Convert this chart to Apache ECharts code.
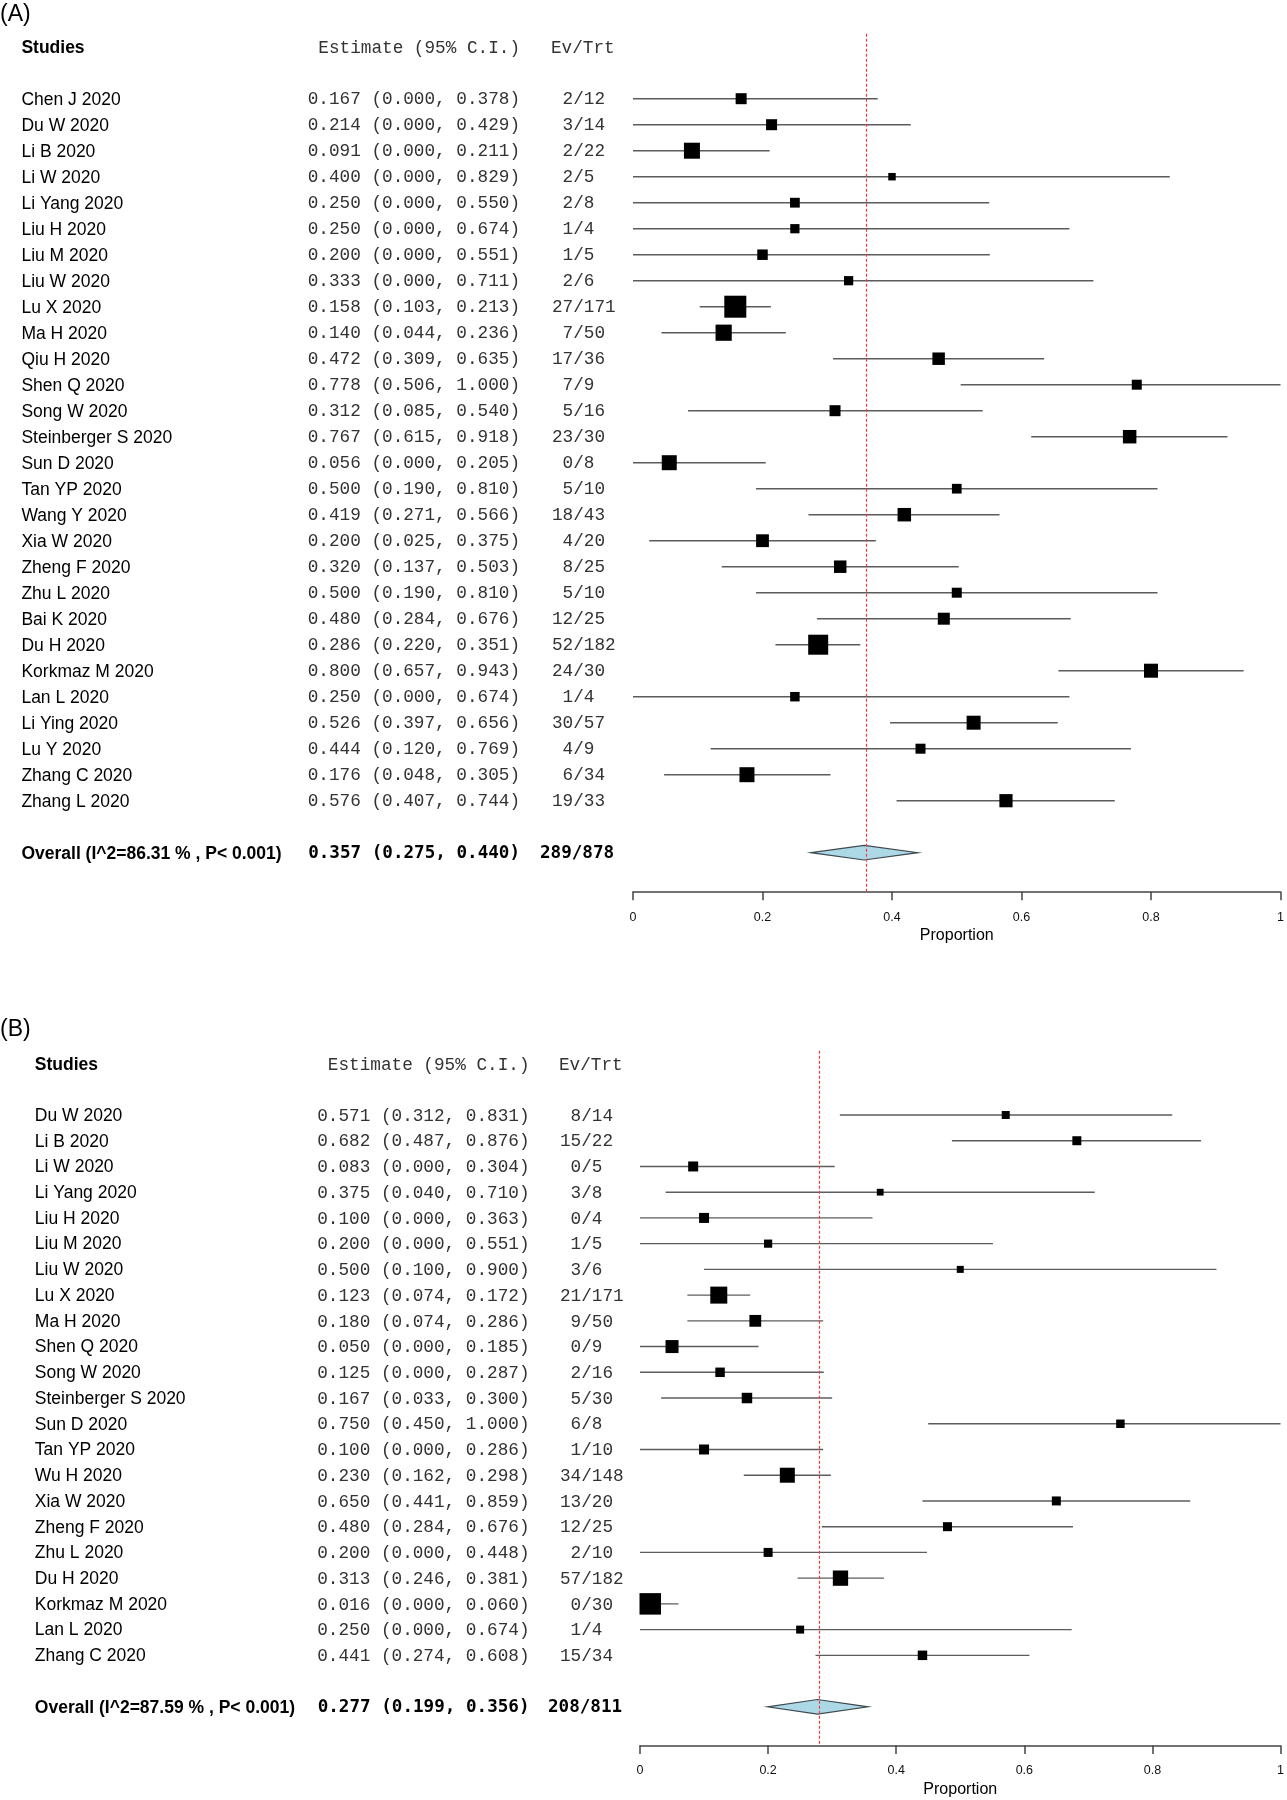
<!DOCTYPE html>
<html><head><meta charset="utf-8">
<script src="https://cdn.jsdelivr.net/npm/echarts@6/dist/echarts.min.js"></script>
<style>html,body{margin:0;padding:0;background:#fff}#c{width:1287px;height:1800px}</style>
</head><body><div id="c"></div>
<script>
// ---------- Panel A data ----------
const studiesA = ['Chen J 2020','Du W 2020','Li B 2020','Li W 2020','Li Yang 2020','Liu H 2020','Liu M 2020','Liu W 2020','Lu X 2020','Ma H 2020','Qiu H 2020','Shen Q 2020','Song W 2020','Steinberger S 2020','Sun D 2020','Tan YP 2020','Wang Y 2020','Xia W 2020','Zheng F 2020','Zhu L 2020','Bai K 2020','Du H 2020','Korkmaz M 2020','Lan L 2020','Li Ying 2020','Lu Y 2020','Zhang C 2020','Zhang L 2020'];
const estA = [0.167,0.214,0.091,0.400,0.250,0.250,0.200,0.333,0.158,0.140,0.472,0.778,0.312,0.767,0.056,0.500,0.419,0.200,0.320,0.500,0.480,0.286,0.800,0.250,0.526,0.444,0.176,0.576];
const loA  = [0.000,0.000,0.000,0.000,0.000,0.000,0.000,0.000,0.103,0.044,0.309,0.506,0.085,0.615,0.000,0.190,0.271,0.025,0.137,0.190,0.284,0.220,0.657,0.000,0.397,0.120,0.048,0.407];
const hiA  = [0.378,0.429,0.211,0.829,0.550,0.674,0.551,0.711,0.213,0.236,0.635,1.000,0.540,0.918,0.205,0.810,0.566,0.375,0.503,0.810,0.676,0.351,0.943,0.674,0.656,0.769,0.305,0.744];
const evA  = [2,3,2,2,2,1,1,2,27,7,17,7,5,23,0,5,18,4,8,5,12,52,24,1,30,4,6,19];
const trtA = [12,14,22,5,8,4,5,6,171,50,36,9,16,30,8,10,43,20,25,10,25,182,30,4,57,9,34,33];
// relative study weight
const weightA = [121,121,256,56,96,85,110,85,484,262,156,100,121,182,225,94,182,164,156,100,144,400,196,90,196,100,225,174];
const overallA = {est:0.357, lo:0.275, hi:0.440, ev:289, trt:878, i2:'86.31', p:'0.001'};

// ---------- Panel B data ----------
const studiesB = ['Du W 2020','Li B 2020','Li W 2020','Li Yang 2020','Liu H 2020','Liu M 2020','Liu W 2020','Lu X 2020','Ma H 2020','Shen Q 2020','Song W 2020','Steinberger S 2020','Sun D 2020','Tan YP 2020','Wu H 2020','Xia W 2020','Zheng F 2020','Zhu L 2020','Du H 2020','Korkmaz M 2020','Lan L 2020','Zhang C 2020'];
const estB = [0.571,0.682,0.083,0.375,0.100,0.200,0.500,0.123,0.180,0.050,0.125,0.167,0.750,0.100,0.230,0.650,0.480,0.200,0.313,0.016,0.250,0.441];
const loB  = [0.312,0.487,0.000,0.040,0.000,0.000,0.100,0.074,0.074,0.000,0.000,0.033,0.450,0.000,0.162,0.441,0.284,0.000,0.246,0.000,0.000,0.274];
const hiB  = [0.831,0.876,0.304,0.710,0.363,0.551,0.900,0.172,0.286,0.185,0.287,0.300,1.000,0.286,0.298,0.859,0.676,0.448,0.381,0.060,0.674,0.608];
const evB  = [8,15,0,3,0,1,3,21,9,0,2,5,6,1,34,13,12,2,57,0,1,15];
const trtB = [14,22,5,8,4,5,6,171,50,9,16,30,8,10,148,20,25,10,182,30,4,34];
const weightB = [64,81,100,46,100,67,49,289,139,169,90,110,72,100,225,81,81,81,234,462,64,90];
const overallB = {est:0.277, lo:0.199, hi:0.356, ev:208, trt:811, i2:'87.59', p:'0.001'};

const xTicks = [0, 0.2, 0.4, 0.6, 0.8, 1];

// ---------- styling / layout ----------
const SANS = '"Liberation Sans", Arial, sans-serif';
const MONO = '"Liberation Mono", "Courier New", monospace';
const MONOB = '"DejaVu Sans Mono", "Liberation Mono", monospace';
const F_SANS = '17.5px ' + SANS;
const F_SANSB = 'bold 17.5px ' + SANS;
const F_MONO = '17.7px ' + MONO;
const F_MONOB = 'bold 17.6px ' + MONOB;

const panels = [
  {letter:'(A)', letterY:15, studies:studiesA, est:estA, lo:loA, hi:hiA, ev:evA, trt:trtA, w:weightA, ov:overallA,
   grid:{left:633, width:650, top:98.7 - 2.5*26, height:33*26},
   tx:{label:21.4, estR:520, ev:552, evHead:551, evOv:540}},
  {letter:'(B)', letterY:1030, studies:studiesB, est:estB, lo:loB, hi:hiB, ev:evB, trt:trtB, w:weightB, ov:overallB,
   grid:{left:640, width:646, top:1115 - 2.5*25.73, height:27*25.73},
   tx:{label:34.8, estR:529.5, ev:560, evHead:559, evOv:548}}
];

const fmt = v => v.toFixed(3);
function txt(x, y, s, font, fill, align) {
  return {type:'text', x:x, y:y, style:{text:s, font:font, fill:fill, textAlign:align, textVerticalAlign:'middle'}};
}

const option = {animation:false, backgroundColor:'#fff', grid:[], xAxis:[], yAxis:[], series:[], graphic:[]};

panels.forEach((P, k) => {
  const n = P.studies.length;
  option.grid.push(Object.assign({containLabel:false}, P.grid));
  option.xAxis.push({
    type:'value', gridIndex:k, min:0, max:1, interval:0.2, position:'bottom',
    axisLine:{show:true, onZero:false, lineStyle:{color:'#444', width:1.5}},
    axisTick:{show:true, length:8.5, lineStyle:{color:'#444', width:1.5}},
    axisLabel:{show:true, fontSize:12.5, color:'#111', margin:19, fontFamily:SANS,
      formatter: v => String(+v.toFixed(1))},
    splitLine:{show:false},
    name:'Proportion', nameLocation:'middle', nameGap:36,
    nameTextStyle:{fontSize:16, color:'#000', fontFamily:SANS}
  });
  option.yAxis.push({type:'value', gridIndex:k, min:-2.5, max:n + 2.5, inverse:true, show:false, splitLine:{show:false}});

  // study rows
  option.series.push({
    type:'custom', xAxisIndex:k, yAxisIndex:k, clip:false,
    data: P.studies.map((s, i) => [P.lo[i], P.hi[i], P.est[i], i, P.w[i]]),
    renderItem: (params, api) => {
      const i = api.value(3);
      const pL = api.coord([api.value(0), i]);
      const pH = api.coord([api.value(1), i]);
      const pE = api.coord([api.value(2), i]);
      const s = Math.sqrt(api.value(4));
      const idx = params.dataIndex;
      const ty = pE[1] + 1;
      return {type:'group', children:[
        {type:'line', shape:{x1:pL[0], y1:pL[1], x2:pH[0], y2:pH[1]}, style:{stroke:'#5c5c5c', lineWidth:1.4}},
        {type:'rect', shape:{x:pE[0]-s/2, y:pE[1]-s/2, width:s, height:s}, style:{fill:'#000'}},
        txt(P.tx.label, ty, P.studies[idx], F_SANS, '#000', 'left'),
        txt(P.tx.estR, ty, fmt(P.est[idx]) + ' (' + fmt(P.lo[idx]) + ', ' + fmt(P.hi[idx]) + ')', F_MONO, '#333', 'right'),
        txt(P.tx.ev, ty, String(P.ev[idx]).padStart(2, ' ') + '/' + P.trt[idx], F_MONO, '#333', 'left')
      ]};
    },
    markLine:{silent:true, symbol:['none','none'], label:{show:false},
      lineStyle:{color:'#f23c3c', type:[3,2], width:1.2},
      data:[{xAxis:P.ov.est}]}
  });

  // overall row (diamond)
  option.series.push({
    type:'custom', xAxisIndex:k, yAxisIndex:k, clip:false,
    data:[[P.ov.lo, P.ov.hi, P.ov.est, n + 1]],
    renderItem: (params, api) => {
      const y = api.value(3);
      const pL = api.coord([api.value(0), y]);
      const pH = api.coord([api.value(1), y]);
      const pE = api.coord([api.value(2), y]);
      const h = 7.3;
      const ty = pE[1] + 1;
      return {type:'group', children:[
        {type:'polygon', shape:{points:[[pL[0], pL[1]], [pE[0], pE[1]-h], [pH[0], pH[1]], [pE[0], pE[1]+h]]},
         style:{fill:'#add8e6', stroke:'#3d4a4f', lineWidth:1.2}},
        txt(P.tx.label, ty, 'Overall (I^2=' + P.ov.i2 + ' % , P< ' + P.ov.p + ')', F_SANSB, '#000', 'left'),
        txt(P.tx.estR, ty, fmt(P.ov.est) + ' (' + fmt(P.ov.lo) + ', ' + fmt(P.ov.hi) + ')', F_MONOB, '#000', 'right'),
        txt(P.tx.evOv, ty, P.ov.ev + '/' + P.ov.trt, F_MONOB, '#000', 'left')
      ]};
    }
  });

  // header row
  option.series.push({
    type:'custom', xAxisIndex:k, yAxisIndex:k, clip:false,
    data:[[0, -1.95]],
    renderItem: (params, api) => {
      const p = api.coord([0, api.value(1)]);
      const ty = p[1];
      return {type:'group', children:[
        txt(P.tx.label, ty, 'Studies', F_SANSB, '#000', 'left'),
        txt(P.tx.estR, ty, 'Estimate (95% C.I.)', F_MONO, '#333', 'right'),
        txt(P.tx.evHead, ty, 'Ev/Trt', F_MONO, '#333', 'left')
      ]};
    }
  });

  option.graphic.push({type:'text', x:0, y:P.letterY,
    style:{text:P.letter, font:'23px ' + SANS, fill:'#000', textVerticalAlign:'middle'}});
});

const chart = echarts.init(document.getElementById('c'), null, {renderer:'canvas'});
chart.setOption(option);
</script></body></html>
